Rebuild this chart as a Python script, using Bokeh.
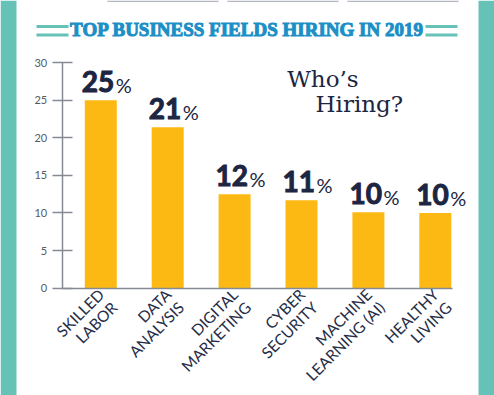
import math
from bokeh.plotting import figure
from bokeh.models import (ColumnDataSource, LinearAxis, FixedTicker, Range1d,
                          BoxAnnotation, Label)
from bokeh.core.properties import value
from bokeh.embed import file_html
from bokeh.resources import INLINE

# ---------------- data ----------------
categories = ["SKILLED\nLABOR", "DATA\nANALYSIS", "DIGITAL\nMARKETING",
              "CYBER\nSECURITY", "MACHINE\nLEARNING (AI)", "HEALTHY\nLIVING"]
shares = [25.0, 21.4, 12.5, 11.7, 10.1, 10.0]
share_labels = ["25", "21", "12", "11", "10", "10"]
y_ticks = [0, 5, 10, 15, 20, 25, 30]

title_text = "TOP BUSINESS FIELDS HIRING IN 2019"

# ---------------- style ----------------
TEAL = "#66c1b6"
NAVY = "#1c2541"
AMBER = "#fdb913"
BLUE = "#1b8fc6"
GREY = "#858a94"

# layout geometry (page pixels of the reference)
X0, DX = 100.3, 66.9     # centre of first bar, spacing between bars
Y0, DY = 287.7, 7.523    # zero line, pixels per unit


def px2x(px):
    return (px - X0) / DX


def px2y(py):
    return (Y0 - py) / DY


W, H = 494, 395
p = figure(width=W, height=H, output_backend="svg", toolbar_location=None,
           x_range=Range1d(px2x(0), px2x(W)),
           y_range=Range1d(px2y(H), px2y(0)),
           x_axis_type=None, y_axis_type=None, min_border=0,
           outline_line_color=None, background_fill_color="white",
           border_fill_color="white")

idx = list(range(len(categories)))
src = ColumnDataSource(dict(x=idx, top=shares, lab=share_labels,
                            pct=["%"] * len(idx), cat=categories,
                            zero=[0] * len(idx)))

p.vbar(x="x", top="top", bottom=0, width=32 / DX, source=src,
       fill_color=AMBER, line_color=None)

p.text(x="x", y="top", text="lab", source=src, text_align="right",
       text_baseline="alphabetic", x_offset=13.5, y_offset=-18.4,
       text_font=value("Lato"), text_font_size="28px",
       text_font_style="bold", text_color=NAVY,
       text_outline_color=NAVY)
p.text(x="x", y="top", text="pct", source=src, text_align="left",
       text_baseline="alphabetic", x_offset=15, y_offset=-15.3,
       text_font=value("Lato"), text_font_size="20px",
       text_color=NAVY)

# category labels, rotated, right-aligned lines
p.text(x="x", y="zero", text="cat", source=src, angle=math.pi / 4,
       text_align="right", text_baseline="top", x_offset=-6, y_offset=-3,
       text_font=value("Lato"), text_font_size="15.5px",
       text_line_height=1.02, text_color="#252d48")

# axes
yaxis = LinearAxis(fixed_location=px2x(61.7), bounds=(0, 30),
                   ticker=FixedTicker(ticks=y_ticks),
                   axis_line_color=GREY, axis_line_width=1.5,
                   major_tick_line_color=GREY, major_tick_line_width=1.5,
                   major_tick_in=10, major_tick_out=10,
                   minor_tick_line_color=None,
                   major_label_standoff=5,
                   major_label_text_font="Lato",
                   major_label_text_font_size="11px",
                   major_label_text_color="#555a63")
p.add_layout(yaxis, "left")

xaxis = LinearAxis(fixed_location=0, bounds=(px2x(61.7), px2x(451.5)),
                   ticker=FixedTicker(ticks=[]),
                   axis_line_color=GREY, axis_line_width=1.5,
                   major_tick_line_color=None, minor_tick_line_color=None)
p.add_layout(xaxis, "below")

# frame decorations
for l, r in [(0, 16), (478, 494)]:
    p.add_layout(BoxAnnotation(left=px2x(l), right=px2x(r), fill_color=TEAL,
                               fill_alpha=1, line_color=None))
for l, r in [(107, 218), (227, 338), (347, 458)]:
    p.add_layout(BoxAnnotation(left=px2x(l), right=px2x(r),
                               top=px2y(0), bottom=px2y(1.5),
                               fill_color="#b3b8c4", fill_alpha=1,
                               line_color=None))
for l, r in [(36, 68), (425, 457)]:
    for t, b in [(24.5, 27.5), (33, 36)]:
        p.add_layout(BoxAnnotation(left=px2x(l), right=px2x(r),
                                   top=px2y(t), bottom=px2y(b),
                                   fill_color=TEAL, fill_alpha=1,
                                   line_color=None))

tsrc = ColumnDataSource(dict(x=[px2x(246.5)], y=[px2y(37 - 8)], t=[title_text]))
p.text(x="x", y="y", text="t", source=tsrc, text_align="center",
       text_baseline="alphabetic", text_font=value("Liberation Serif"),
       text_font_size="19px", text_font_style="bold", text_color=BLUE,
       text_outline_color=BLUE)

p.add_layout(Label(x=px2x(286.7), y=px2y(87.3 - 8.5), text="Who\u2019s",
                   text_align="left", text_baseline="alphabetic",
                   text_font="DejaVu Serif", text_font_size="23px",
                   text_color=NAVY))
p.add_layout(Label(x=px2x(315), y=px2y(112.3 - 8.5), text="Hiring?",
                   text_align="left", text_baseline="alphabetic",
                   text_font="DejaVu Serif", text_font_size="23px",
                   text_color=NAVY))

open("out.html", "w").write(file_html(p, INLINE))
